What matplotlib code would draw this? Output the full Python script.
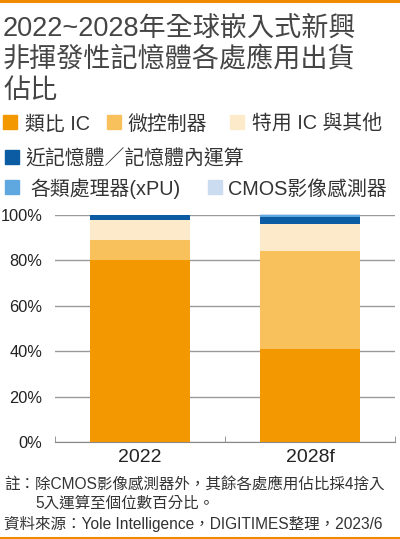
import matplotlib
matplotlib.use("Agg")
import matplotlib.pyplot as plt
from matplotlib.patches import Rectangle
from matplotlib.lines import Line2D
import numpy as np

FAM = ['Liberation Sans', 'Noto Sans CJK TC', 'DejaVu Sans']
plt.rcParams['font.family'] = FAM

years = ["2022", "2028f"]
series = ["類比 IC", "微控制器", "特用 IC 與其他", "近記憶體／記憶體內運算", "各類處理器(xPU)", "CMOS影像感測器"]
analog = [80, 41]
mcu = [9, 43]
special = [9, 12]
near_mem = [2, 3]
xpu = [0, 1]
cmos = [0, 0.3]
values = [analog, mcu, special, near_mem, xpu, cmos]
colors = ["#F39800", "#F9C15C", "#FDEACB", "#0B5CA3", "#5EA8DF", "#CBDBF0"]
yticks = [0, 20, 40, 60, 80, 100]
ytick_labels = ["0%", "20%", "40%", "60%", "80%", "100%"]

W, H = 400, 539
fig = plt.figure(figsize=(W/100, H/100), dpi=100)

def fx(x): return x / W
def fy(y): return 1 - y / H

# top & bottom orange rules
fig.add_artist(Line2D([0, 1], [fy(1.2), fy(1.2)], color="#F08A00", lw=2.2, transform=fig.transFigure))
fig.add_artist(Line2D([0, 1], [fy(537.5), fy(537.5)], color="#F08A00", lw=2.2, transform=fig.transFigure))

title_color = "#454545"
tkw = dict(fontsize=19.5, fontweight="medium", color=title_color, va="center", ha="left")
fig.text(fx(3), fy(29), "2022~2028年全球嵌入式新興", **tkw)
fig.text(fx(3), fy(60), "非揮發性記憶體各處應用出貨", **tkw)
fig.text(fx(3), fy(91), "佔比", **tkw)

# legend (manual)
leg_pos = [(3, 122, 25), (107, 122, 127), (230, 122, 252),
           (5, 157, 25),
           (5, 187, 30), (208, 187, 228)]
for (sx, sy, tx), lab, c in zip(leg_pos, series, colors):
    fig.add_artist(Rectangle((fx(sx), fy(sy + 7)), 14 / W, 14 / H, color=c, transform=fig.transFigure))
    fig.text(fx(tx), fy(sy + 2), lab, fontsize=14.3, color="#333333", va="center", ha="left")

ax = fig.add_axes([fx(55), fy(442), (395 - 55) / W, (442 - 215) / H])
x = np.arange(len(years))
bottom = np.zeros(len(years))
for vals, c, lab in zip(values, colors, series):
    ax.bar(x, vals, bottom=bottom, width=0.59, color=c, label=lab, zorder=3, clip_on=False)
    bottom += np.array(vals)

ax.set_xlim(-0.5, 1.5)
ax.set_ylim(0, 100)
ax.set_yticks(yticks)
ax.set_yticklabels(ytick_labels)
ax.set_xticks(x)
ax.set_xticklabels(years)
ax.set_xticks([-0.5, 0.5, 1.5], minor=True)
ax.tick_params(axis="x", which="major", length=0, labelsize=14, labelcolor="#222222", pad=5)
ax.tick_params(axis="x", which="minor", length=4, direction="in", color="#888888")
ax.tick_params(axis="y", length=0, labelsize=11.8, labelcolor="#222222", pad=9)
ax.grid(axis="y", color="#9a9a9a", lw=1, zorder=0)
for s in ["left", "right", "top"]:
    ax.spines[s].set_visible(False)
ax.spines["bottom"].set_color("#888888")
ax.set_facecolor("none")

note_color = "#333333"
nkw = dict(fontsize=11.2, color=note_color, va="center", ha="left")
fig.text(fx(4), fy(484), "註：除CMOS影像感測器外，其餘各處應用佔比採4捨入", **nkw)
fig.text(fx(35), fy(503), "5入運算至個位數百分比。", **nkw)
fig.text(fx(4), fy(524), "資料來源：Yole Intelligence，DIGITIMES整理，2023/6", **nkw)

fig.savefig("out.png", dpi=100)
